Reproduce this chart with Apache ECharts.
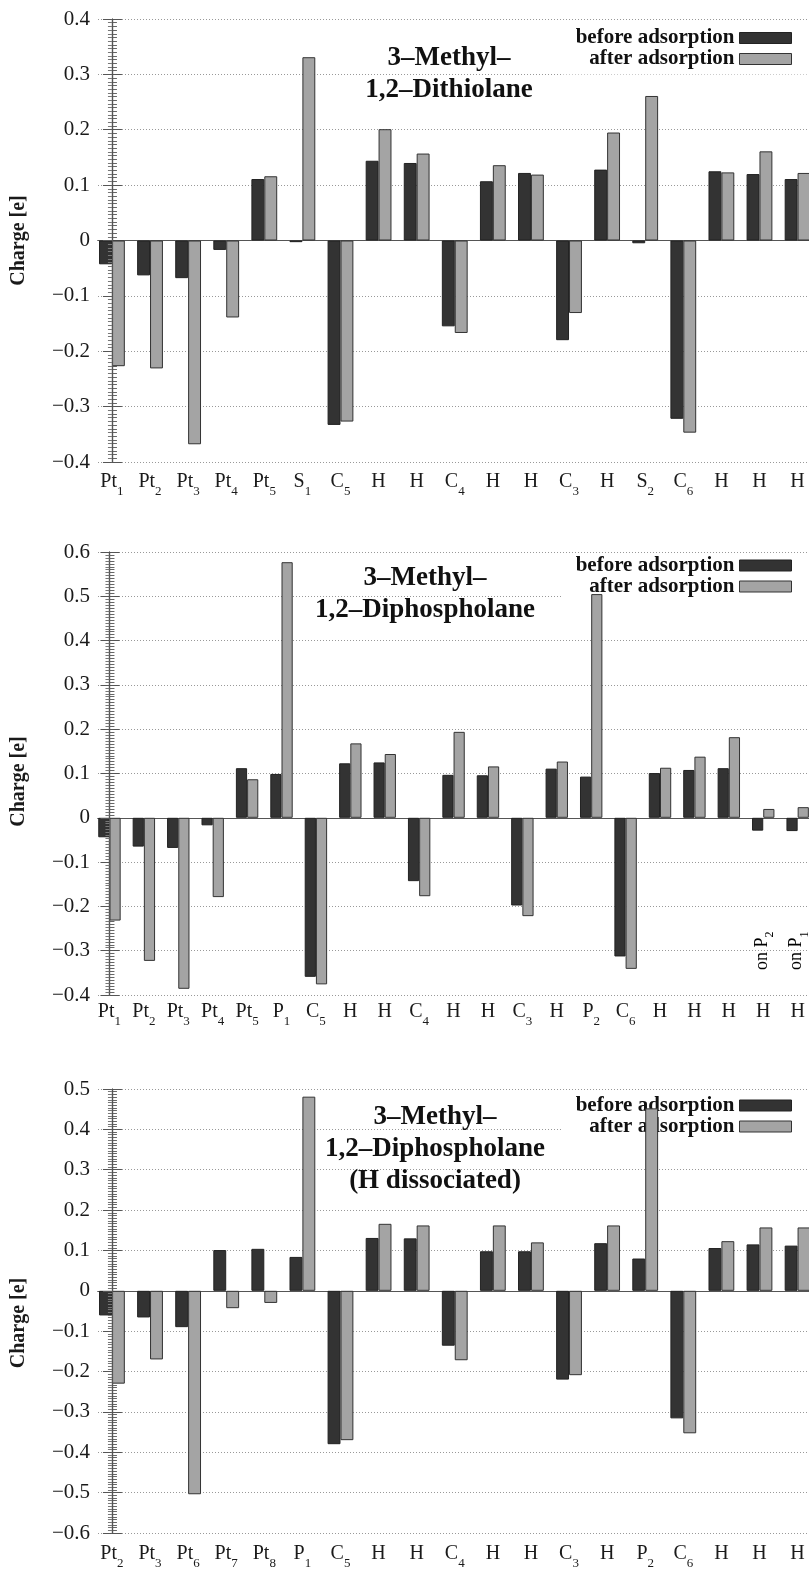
<!DOCTYPE html>
<html><head><meta charset="utf-8">
<script src="https://cdn.jsdelivr.net/npm/echarts@6/dist/echarts.min.js"></script>
<style>html,body{margin:0;padding:0;background:#fff}#c{width:809px;height:1570px}</style>
</head><body><div id="c"></div>
<script>
// ---- data ----
const categories1 = ['Pt_1','Pt_2','Pt_3','Pt_4','Pt_5','S_1','C_5','H','H','C_4','H','H','C_3','H','S_2','C_6','H','H','H'];
const before1 = [-0.043,-0.063,-0.068,-0.017,0.111,-0.003,-0.333,0.144,0.140,-0.155,0.107,0.122,-0.180,0.128,-0.005,-0.322,0.125,0.120,0.111];
const after1  = [-0.227,-0.231,-0.368,-0.139,0.116,0.331,-0.327,0.201,0.157,-0.167,0.136,0.119,-0.131,0.195,0.261,-0.347,0.123,0.161,0.122];

const categories2 = ['Pt_1','Pt_2','Pt_3','Pt_4','Pt_5','P_1','C_5','H','H','C_4','H','H','C_3','H','P_2','C_6','H','H','H','H','H'];
const before2 = [-0.044,-0.065,-0.068,-0.017,0.112,0.099,-0.359,0.123,0.125,-0.143,0.097,0.096,-0.198,0.111,0.093,-0.313,0.101,0.108,0.112,-0.029,-0.030];
const after2  = [-0.232,-0.323,-0.386,-0.179,0.087,0.577,-0.376,0.168,0.144,-0.177,0.194,0.116,-0.222,0.127,0.505,-0.341,0.113,0.138,0.182,0.020,0.024];
const notes2 = [{index:19, text:'on P_2'}, {index:20, text:'on P_1'}];

const categories3 = ['Pt_2','Pt_3','Pt_6','Pt_7','Pt_8','P_1','C_5','H','H','C_4','H','H','C_3','H','P_2','C_6','H','H','H'];
const before3 = [-0.061,-0.066,-0.090,0.101,0.104,0.084,-0.380,0.131,0.130,-0.136,0.098,0.098,-0.220,0.118,0.080,-0.316,0.106,0.115,0.112];
const after3  = [-0.230,-0.170,-0.504,-0.043,-0.030,0.481,-0.370,0.166,0.162,-0.172,0.162,0.120,-0.209,0.162,0.452,-0.353,0.123,0.157,0.157];

const titles = ['3–Methyl–\n1,2–Dithiolane', '3–Methyl–\n1,2–Diphospholane', '3–Methyl–\n1,2–Diphospholane\n(H dissociated)'];
const seriesNames = ['before adsorption', 'after adsorption'];
const yAxisName = 'Charge [e]';

// ---- styling / layout ----
const SERIF = '"Liberation Serif","DejaVu Serif",serif';
const DARK = '#333333', LIGHT = '#a4a4a4';
const panels = [
  {cats:categories1, before:before1, after:after1, yMin:-0.4, yMax:0.4, top:19, height:443, xMin:-0.366, xMax:18.3, barWidth:12.9, labelMargin:10, titleX:449, titleTop:42, legendTop:20, legendPadTop:7.5, namePad:0},
  {cats:categories2, before:before2, after:after2, yMin:-0.4, yMax:0.6, top:552, height:443, xMin:-0.333, xMax:20.33, barWidth:11.2, labelMargin:7, titleX:425, titleTop:562, legendTop:553, legendPadTop:2, namePad:16},
  {cats:categories3, before:before3, after:after3, yMin:-0.6, yMax:0.5, top:1089, height:447, xMin:-0.366, xMax:18.3, barWidth:12.9, labelMargin:11, titleX:435, titleTop:1101, legendTop:1090, legendPadTop:5, namePad:24}
];

function richName(name){
  const p = name.split('_');
  return p.length > 1 ? '{m|' + p[0] + '}{s|' + p[1] + '}' : '{m|' + p[0] + '}';
}
const labelRich = {
  m:{fontFamily:SERIF, fontSize:20, lineHeight:24, verticalAlign:'top', color:'#1a1a1a'},
  s:{fontFamily:SERIF, fontSize:13, lineHeight:13, padding:[13,0,0,0], verticalAlign:'top', color:'#1a1a1a'}
};
function yFmt(v){
  const r = Math.round(v*10)/10;
  return r === 0 ? '0' : r.toFixed(1).replace('-', '−');
}

const grid = [], xAxis = [], yAxis = [], series = [], legend = [], title = [];
panels.forEach((P, k) => {
  grid.push({left:98, top:P.top, width:713, height:P.height});
  const ticks = P.cats.map((c, i) => i);
  xAxis.push({
    type:'value', gridIndex:k, position:'bottom', min:P.xMin, max:P.xMax,
    axisLine:{show:true, lineStyle:{color:'#555', width:1.2}},
    axisTick:{show:false}, splitLine:{show:false},
    axisLabel:{customValues:ticks, margin:P.labelMargin, formatter:(v) => richName(P.cats[Math.round(v)] || ''), rich:labelRich}
  });
  xAxis.push({
    type:'value', gridIndex:k, position:'top', min:P.xMin, max:P.xMax,
    axisLine:{show:true, lineStyle:{color:'#555', width:1.2}},
    axisTick:{show:false}, splitLine:{show:false}, axisLabel:{show:false}
  });
  yAxis.push({
    type:'value', gridIndex:k, position:'left', min:P.yMin, max:P.yMax, interval:0.1,
    name:yAxisName, nameLocation:'middle', nameGap:69,
    nameTextStyle:{fontFamily:SERIF, fontWeight:'bold', fontSize:20, color:'#1a1a1a', padding:[0, P.namePad, 0, 0]},
    axisLine:{show:true, lineStyle:{color:'#555', width:1.2}},
    axisTick:{show:true, inside:true, length:10, lineStyle:{color:'#555'}},
    minorTick:{show:true, splitNumber:15, length:5, lineStyle:{color:'#666'}},
    splitLine:{show:true, lineStyle:{color:'#999', type:[1,2], width:1}},
    axisLabel:{margin:8, formatter:yFmt, fontFamily:SERIF, fontSize:21, color:'#1a1a1a'}
  });
  yAxis.push({
    type:'value', gridIndex:k, position:'right', min:P.yMin, max:P.yMax, interval:0.1, z:3,
    axisLine:{show:true, lineStyle:{color:'#555', width:1.2}},
    axisTick:{show:true, inside:true, length:9, lineStyle:{color:'#555'}},
    minorTick:{show:true, splitNumber:15, length:4, lineStyle:{color:'#777'}},
    splitLine:{show:false}, axisLabel:{show:false}
  });
  [P.before, P.after].forEach((arr, j) => {
    series.push({
      type:'bar', name:seriesNames[j], xAxisIndex:2*k, yAxisIndex:2*k,
      barWidth:P.barWidth, barGap:'0%', z:2,
      itemStyle:{color: j === 0 ? DARK : LIGHT, borderColor: j === 0 ? '#222' : '#333', borderWidth:1},
      emphasis:{disabled:true},
      data:arr.map((v, i) => [i, v])
    });
  });
  legend.push({
    orient:'vertical', align:'right', right:0, top:P.legendTop,
    padding:[P.legendPadTop, 17, 5, 14], itemWidth:52, itemHeight:11, itemGap:0,
    icon:'rect', selectedMode:false, backgroundColor:'#fff', z:1,
    textStyle:{fontFamily:SERIF, fontWeight:'bold', fontSize:21, lineHeight:20, color:'#111'},
    data:[
      {name:seriesNames[0], itemStyle:{color:DARK, borderColor:'#222', borderWidth:1}},
      {name:seriesNames[1], itemStyle:{color:LIGHT, borderColor:'#333', borderWidth:1}}
    ]
  });
  title.push({
    text:titles[k], left:P.titleX, top:P.titleTop, textAlign:'center', padding:0,
    textStyle:{fontFamily:SERIF, fontWeight:'bold', fontSize:27, lineHeight:32, color:'#111'}
  });
});

const chart = echarts.init(document.getElementById('c'), null, {renderer:'canvas'});
chart.setOption({backgroundColor:'#fff', animation:false, title, legend, grid, xAxis, yAxis, series});

// rotated annotations in the middle panel, positioned through the panel's scales
const noteRich = {
  m:{fontFamily:SERIF, fontSize:18, lineHeight:20, verticalAlign:'top', color:'#1a1a1a'},
  s:{fontFamily:SERIF, fontSize:12, lineHeight:12, padding:[11,0,0,0], verticalAlign:'top', color:'#1a1a1a'}
};
const graphic = notes2.map(n => {
  const p = chart.convertToPixel({seriesIndex:2}, [n.index, -0.30]);
  return {type:'text', x:p[0], y:p[1], rotation:Math.PI/2, z:10,
    style:{text:richName(n.text), rich:noteRich, align:'center', verticalAlign:'middle'}};
});
chart.setOption({graphic});
</script></body></html>
